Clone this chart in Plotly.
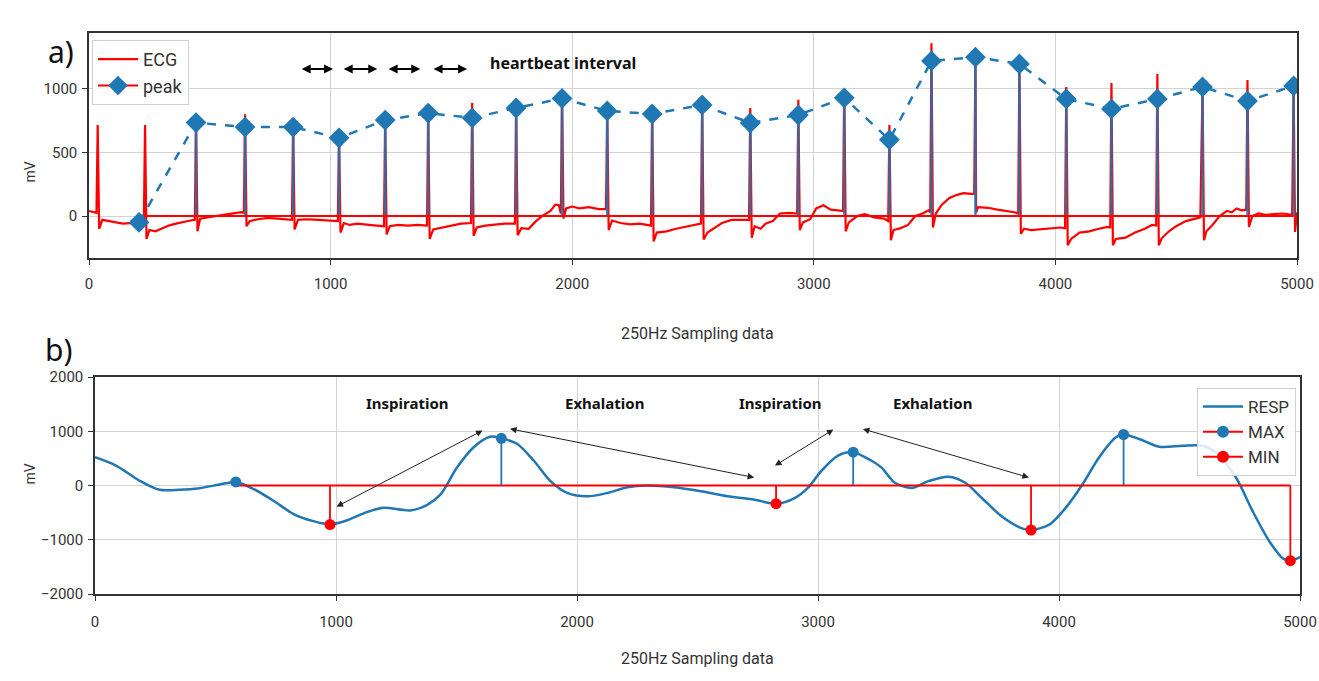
import plotly.graph_objects as go

# ---------------- data: panel a (ECG) ----------------
ecg_x = [0, 15, 31, 36, 42, 55, 80, 110, 140, 170, 200, 227,
         232, 238, 250, 275, 300, 330, 360, 390, 420, 438,
         443, 449, 460, 490, 530, 570, 600, 630, 641,
         646, 652, 665, 700, 740, 780, 820, 840,
         845, 851, 865, 900, 950, 990, 1030,
         1035, 1041, 1055, 1080, 1110, 1150, 1190, 1221,
         1226, 1232, 1245, 1280, 1320, 1360, 1399,
         1404, 1410, 1425, 1460, 1500, 1540, 1581,
         1586, 1592, 1605, 1640, 1680, 1720, 1763,
         1768, 1774, 1790, 1820, 1850, 1880, 1910, 1930, 1945, 1953,
         1958, 1964, 1975, 2000, 2030, 2070, 2110, 2140,
         2145, 2151, 2165, 2200, 2240, 2280, 2326,
         2331, 2337, 2350, 2390, 2430, 2470, 2510, 2533,
         2538, 2544, 2560, 2590, 2620, 2660, 2700, 2732,
         2737, 2743, 2755, 2780, 2800, 2830, 2860, 2900, 2931,
         2936, 2942, 2955, 2985, 3010, 3040, 3070, 3100, 3121,
         3126, 3132, 3145, 3180, 3210, 3250, 3290, 3308,
         3313, 3319, 3330, 3360, 3390, 3420, 3450, 3475, 3482,
         3487, 3493, 3505, 3530, 3560, 3590, 3620, 3650, 3664,
         3669, 3672, 3680, 3720, 3760, 3800, 3830, 3846,
         3851, 3857, 3870, 3900, 3940, 3980, 4020, 4040,
         4045, 4051, 4065, 4100, 4140, 4180, 4215, 4227,
         4232, 4238, 4250, 4290, 4330, 4370, 4400, 4417,
         4422, 4428, 4440, 4470, 4500, 4540, 4580, 4600,
         4609, 4615, 4625, 4650, 4680, 4710, 4730, 4750, 4770, 4790,
         4795, 4801, 4815, 4840, 4870, 4900, 4940, 4980,
         4986, 4992, 5000]
ecg_y = [40, 30, 25, 716, -100, -30, -40, -50, -60, -55, -70, -60,
         716, -180, -110, -120, -100, -75, -60, -45, -35, -30,
         740, -120, -20, -10, 0, 10, 20, 30, 25,
         800, -80, -40, -25, -15, -20, -25, -30,
         705, -105, -30, -25, -30, -35, -40,
         620, -130, -55, -70, -60, -65, -75, -80,
         760, -145, -80, -70, -75, -70, -75,
         815, -180, -105, -90, -75, -60, -55,
         890, -155, -90, -75, -65, -60, -60,
         855, -150, -95, -100, -40, 5, 40, 90, 85, 20,
         945, -20, 60, 75, 60, 70, 55, 55,
         830, -110, -35, -55, -65, -60, -75,
         810, -200, -130, -120, -100, -85, -65, -60,
         880, -185, -130, -90, -55, -30, -30, -30,
         850, -170, -80, -100, -60, -40, 20, 25, 20,
         915, -110, -50, -25, 60, 85, 50, 45, 40,
         1000, -120, -50, 0, 15, -10, -20, -40,
         716, -190, -110, -95, -70, 0, 20, 45, 30,
         1360, -90, 20, 90, 140, 165, 180, 175, 175,
         1260, 30, 70, 65, 50, 40, 30, 20,
         1205, -140, -100, -110, -105, -95, -90, -95,
         1016, -230, -180, -130, -120, -100, -85, -90,
         1047, -230, -180, -170, -130, -100, -70, -75,
         1118, -230, -175, -120, -80, -40, -20, -10,
         1020, -190, -120, -70, 0, 40, 30, 60, 45, 50,
         1071, -85, 0, 20, 10, 15, 20, 10,
         1030, -125, 30]

peak_x = [207, 443, 646, 845, 1035, 1226, 1404, 1586, 1768, 1958, 2145, 2331, 2538,
          2737, 2936, 3126, 3313, 3487, 3669, 3851, 4045, 4232, 4422, 4609, 4795, 4986]
peak_y = [-50, 735, 700, 700, 615, 755, 810, 772, 850, 925, 827, 803, 874,
          732, 795, 930, 600, 1220, 1250, 1197, 921, 843, 921, 1016, 905, 1024]

interval_x0 = [874, 1048, 1234, 1420]
interval_x1 = [1010, 1193, 1371, 1565]

# ---------------- data: panel b (RESP) ----------------
resp_x = [0, 87, 184, 268, 351, 434, 517, 584, 656, 739, 822, 906, 975, 1044, 1128,
          1197, 1308, 1377, 1433, 1502, 1571, 1640, 1686, 1751, 1821, 1890, 1959, 2043,
          2126, 2209, 2292, 2403, 2514, 2625, 2736, 2826, 2903, 2958, 3014, 3083, 3146,
          3222, 3264, 3319, 3389, 3458, 3542, 3611, 3680, 3763, 3847, 3884, 3958, 4027,
          4097, 4166, 4236, 4268, 4333, 4416, 4513, 4596, 4652, 4735, 4804, 4874, 4930,
          4960, 5000]
resp_y = [521, 368, 92, -80, -80, -49, 18, 65, -61, -276, -521, -656, -715, -644, -491,
          -410, -460, -360, -169, 331, 706, 900, 870, 769, 456, 81, -137, -200,
          -137, -31, 0, -31, -106, -200, -262, -335, -231, -44, 269, 550, 615,
          456, 330, 50, -44, 81, 162, 50, -230, -572, -790, -820, -727, -416,
          19, 516, 888, 940, 857, 714, 733, 733, 609, 143, -478, -1037, -1348,
          -1385, -1320]

max_x = [584, 1686, 3146, 4268]
max_y = [65, 870, 615, 940]
min_x = [975, 2826, 3884, 4960]
min_y = [-720, -335, -820, -1385]

phase_labels = ["Inspiration", "Exhalation", "Inspiration", "Exhalation"]
phase_x = [1295, 2113, 2843, 3476]
arrow_start_x = [996, 1716, 2815, 3180]
arrow_start_y = [-405, 1050, 350, 1050]
arrow_end_x = [1608, 2735, 3064, 3875]
arrow_end_y = [1013, 147, 1031, 147]

x_ticks = [0, 1000, 2000, 3000, 4000, 5000]
ya_ticks = [0, 500, 1000]
yb_ticks = [-2000, -1000, 0, 1000, 2000]

# ---------------- styling ----------------
BLUE = "#1f77b4"
RED = "#ff0000"
FONT = "Roboto, sans-serif"
BOLD = "Noto Sans, sans-serif"
W, H = 1319, 681


def px(xp):
    return xp / W


def py(yp):
    return 1 - yp / H


def stems(xs, ys):
    sx, sy = [], []
    for x, y in zip(xs, ys):
        sx += [x, x, None]
        sy += [0, y, None]
    return sx, sy


fig = go.Figure()

# panel a
fig.add_trace(go.Scatter(x=ecg_x, y=ecg_y, mode="lines", name="ECG",
                         line=dict(color=RED, width=2.2), xaxis="x", yaxis="y",
                         legend="legend"))
sx, sy = stems(peak_x, peak_y)
fig.add_trace(go.Scatter(x=sx, y=sy, mode="lines", line=dict(color=BLUE, width=2.6),
                         opacity=0.85, showlegend=False, xaxis="x", yaxis="y", hoverinfo="skip"))
fig.add_trace(go.Scatter(x=[min(peak_x), max(peak_x)], y=[0, 0], mode="lines",
                         line=dict(color=RED, width=2), showlegend=False,
                         xaxis="x", yaxis="y", hoverinfo="skip"))
fig.add_trace(go.Scatter(x=peak_x, y=peak_y, mode="lines+markers",
                         line=dict(color=BLUE, width=2.5, dash="dash"),
                         marker=dict(symbol="diamond", size=16, color=BLUE),
                         showlegend=False, xaxis="x", yaxis="y"))
fig.add_trace(go.Scatter(x=[None], y=[None], mode="lines+markers", name="peak",
                         line=dict(color=RED, width=2),
                         marker=dict(symbol="diamond", size=15, color=BLUE),
                         xaxis="x", yaxis="y", legend="legend"))

# panel b
fig.add_trace(go.Scatter(x=resp_x, y=resp_y, mode="lines", name="RESP",
                         line=dict(color=BLUE, width=2.5, shape="spline", smoothing=0.8),
                         xaxis="x2", yaxis="y2", legend="legend2"))
sx, sy = stems(max_x, max_y)
fig.add_trace(go.Scatter(x=sx, y=sy, mode="lines", line=dict(color=BLUE, width=1.8),
                         showlegend=False, xaxis="x2", yaxis="y2", hoverinfo="skip"))
sx, sy = stems(min_x, min_y)
fig.add_trace(go.Scatter(x=sx, y=sy, mode="lines", line=dict(color=RED, width=1.8),
                         showlegend=False, xaxis="x2", yaxis="y2", hoverinfo="skip"))
fig.add_trace(go.Scatter(x=[min(max_x + min_x), max(max_x + min_x)], y=[0, 0], mode="lines",
                         line=dict(color=RED, width=2), showlegend=False,
                         xaxis="x2", yaxis="y2", hoverinfo="skip"))
fig.add_trace(go.Scatter(x=max_x, y=max_y, mode="markers",
                         marker=dict(symbol="circle", size=11, color=BLUE),
                         showlegend=False, xaxis="x2", yaxis="y2"))
fig.add_trace(go.Scatter(x=min_x, y=min_y, mode="markers",
                         marker=dict(symbol="circle", size=11, color=RED),
                         showlegend=False, xaxis="x2", yaxis="y2"))
fig.add_trace(go.Scatter(x=[None], y=[None], mode="lines+markers", name="MAX",
                         line=dict(color=RED, width=2),
                         marker=dict(symbol="circle", size=12, color=BLUE),
                         xaxis="x2", yaxis="y2", legend="legend2"))
fig.add_trace(go.Scatter(x=[None], y=[None], mode="lines+markers", name="MIN",
                         line=dict(color=RED, width=2),
                         marker=dict(symbol="circle", size=12, color=RED),
                         xaxis="x2", yaxis="y2", legend="legend2"))

axis_common = dict(showgrid=True, gridcolor="#d3d3d3", gridwidth=1, zeroline=False,
                   showline=True, mirror=True, linecolor="#333", linewidth=1.5,
                   ticks="outside", ticklen=5, tickcolor="#333", tickwidth=1.2,
                   tickfont=dict(family=FONT, size=15, color="#333"),
                   automargin=False, fixedrange=True, ticklabeloverflow="allow")

fig.update_layout(
    width=W, height=H,
    margin=dict(l=0, r=0, t=0, b=0),
    paper_bgcolor="white", plot_bgcolor="white",
    font=dict(family=FONT, color="#333"),
    xaxis=dict(domain=[px(89), px(1297)], range=[0, 5000], tickvals=x_ticks,
               anchor="y", ticklabelstandoff=6, **axis_common),
    yaxis=dict(domain=[py(258), py(33)], range=[-330, 1440], tickvals=ya_ticks,
               anchor="x", ticklabelstandoff=2, **axis_common),
    xaxis2=dict(domain=[px(95), px(1300)], range=[0, 5000], tickvals=x_ticks,
                anchor="y2", ticklabelstandoff=8, **axis_common),
    yaxis2=dict(domain=[py(594), py(377)], range=[-2000, 2000], tickvals=yb_ticks,
                anchor="x2", ticklabelstandoff=2, **axis_common),
    legend=dict(x=px(92), y=py(40), xanchor="left", yanchor="top",
                bgcolor="rgba(255,255,255,0.85)", bordercolor="#d0d0d0", borderwidth=1,
                font=dict(family=FONT, size=18, color="#333"), itemwidth=40,
                tracegroupgap=2),
    legend2=dict(x=px(1296), y=py(388), xanchor="right", yanchor="top",
                 bgcolor="rgba(255,255,255,0.85)", bordercolor="#d0d0d0", borderwidth=1,
                 font=dict(family=FONT, size=17, color="#333"), itemwidth=40),
)

ann = []
# panel labels
ann.append(dict(x=px(46), y=py(29), xref="paper", yref="paper", text="a)",
                showarrow=False, font=dict(family=BOLD, size=30, color="#111")))
ann.append(dict(x=px(43), y=py(349), xref="paper", yref="paper", text="b)",
                showarrow=False, font=dict(family=BOLD, size=30, color="#111")))
# axis titles
for yy in (333, 670):
    ann.append(dict(x=px(697), y=py(yy), xref="paper", yref="paper",
                    text="250Hz Sampling data", showarrow=False,
                    font=dict(family=FONT, size=16, color="#333")))
for yy in (160, 487):
    ann.append(dict(x=px(19), y=py(yy), xref="paper", yref="paper", text="mV",
                    textangle=-90, showarrow=False,
                    font=dict(family=FONT, size=14, color="#333")))
# heartbeat interval arrows and text
for x0, x1 in zip(interval_x0, interval_x1):
    ann.append(dict(x=x1, y=1157, ax=x0, ay=1157, xref="x", yref="y", axref="x", ayref="y",
                    text="", showarrow=True, arrowhead=2, arrowside="end+start",
                    arrowsize=0.9, arrowwidth=2, arrowcolor="#000", standoff=0, startstandoff=0))
ann.append(dict(x=1652, y=1205, xref="x", yref="y", xanchor="left", text="<b>heartbeat interval</b>",
                showarrow=False, font=dict(family=BOLD, size=16, color="#111")))
# respiration phases
for label, pxx in zip(phase_labels, phase_x):
    ann.append(dict(x=pxx, y=1520, xref="x2", yref="y2", text="<b>" + label + "</b>",
                    showarrow=False, font=dict(family=BOLD, size=15, color="#111")))
for x0, y0, x1, y1 in zip(arrow_start_x, arrow_start_y, arrow_end_x, arrow_end_y):
    ann.append(dict(x=x1, y=y1, ax=x0, ay=y0, xref="x2", yref="y2", axref="x2", ayref="y2",
                    text="", showarrow=True, arrowhead=2, arrowside="end+start",
                    arrowsize=1.3, arrowwidth=1, arrowcolor="#222", standoff=0, startstandoff=0))
fig.update_layout(annotations=ann)

fig.write_html("out.html", config={"displayModeBar": False},
               post_script="document.body.style.margin='0px';document.body.style.overflow='hidden';")
